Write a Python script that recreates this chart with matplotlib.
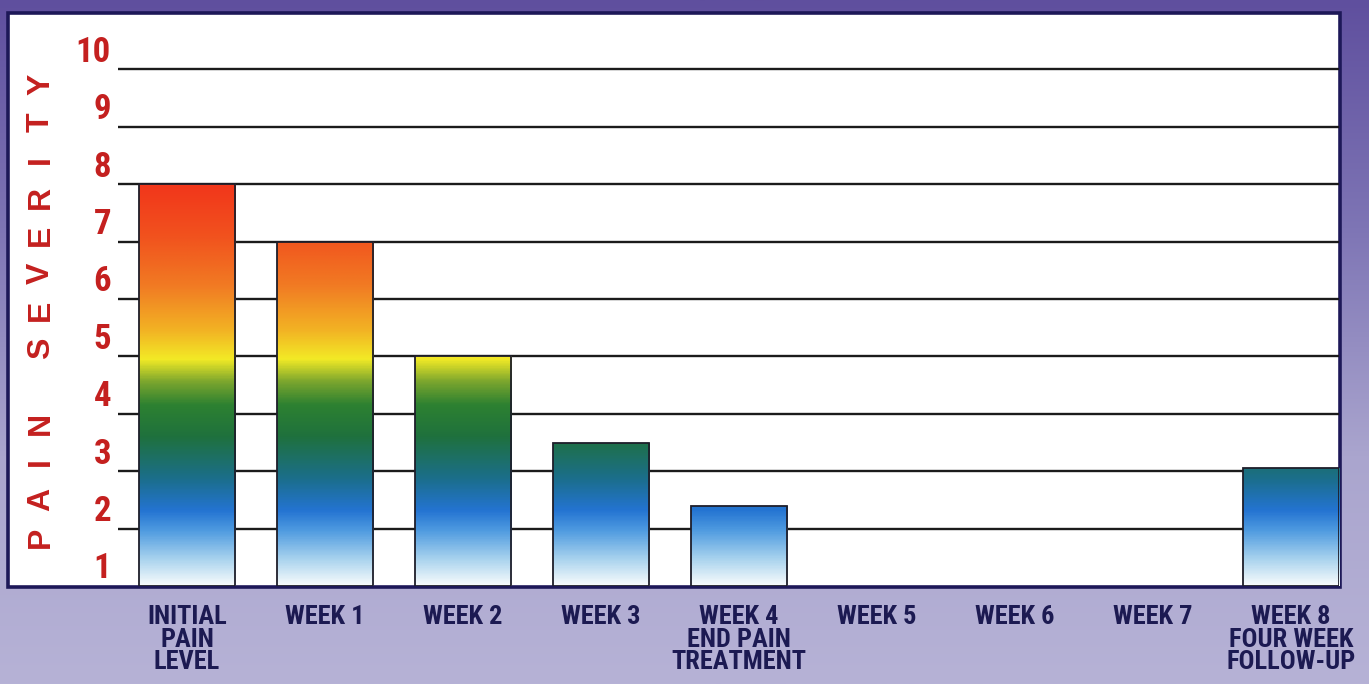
import numpy as np
import matplotlib
matplotlib.use("Agg")
import matplotlib.pyplot as plt
from matplotlib.colors import LinearSegmentedColormap, Normalize
from matplotlib.patches import Rectangle
from matplotlib import font_manager

# ---------------- data ----------------
categories = ["INITIAL\nPAIN\nLEVEL", "WEEK 1", "WEEK 2", "WEEK 3",
              "WEEK 4\nEND PAIN\nTREATMENT", "WEEK 5", "WEEK 6", "WEEK 7",
              "WEEK 8\nFOUR WEEK\nFOLLOW-UP"]
pain_values = [7.0, 6.0, 4.0, 2.5, 1.4, 0.0, 0.0, 0.0, 2.05]
severity_labels = ["1", "2", "3", "4", "5", "6", "7", "8", "9", "10"]
y_title = "PAIN SEVERITY"

# ---------------- fonts ----------------
def _weight(w):
    if isinstance(w, int):
        return w
    return {"bold": 700, "semibold": 600, "demibold": 600, "heavy": 800,
            "black": 900, "extra bold": 800}.get(str(w).lower(), 400)

bold_faces = {f.name for f in font_manager.fontManager.ttflist if _weight(f.weight) >= 600}
COND = dict(family="DejaVu Sans", stretch="condensed")
for cand in ["Roboto Condensed", "Archivo Narrow", "PT Sans Narrow",
             "Liberation Sans Narrow", "Barlow Condensed", "Open Sans Condensed"]:
    if cand in bold_faces:
        COND = dict(family=cand)
        break
WIDE = "Liberation Sans" if "Liberation Sans" in bold_faces else "DejaVu Sans"

W, H = 1369, 684
fig = plt.figure(figsize=(W / 100, H / 100), dpi=100)

# background purple gradient
bg = fig.add_axes([0, 0, 1, 1], zorder=-10)
bg.axis("off")
bg_cmap = LinearSegmentedColormap.from_list("bg", ["#5f4f9e", "#7e75b5", "#aaa5ce", "#b6b2d6"])
bg.imshow(np.linspace(0, 1, 256).reshape(-1, 1), cmap=bg_cmap, aspect="auto",
          extent=[0, 1, 0, 1], origin="upper")
bg.set_xlim(0, 1)
bg.set_ylim(0, 1)

# white framed box
bx0, bx1, by0, by1 = 8, 1340, 13, 587
bg.add_patch(Rectangle((bx0 / W, 1 - by1 / H), (bx1 - bx0) / W, (by1 - by0) / H,
                       transform=fig.transFigure, facecolor="white",
                       edgecolor="#1d1858", linewidth=2.6, zorder=5))

# main axes
ax_left, ax_right, ax_bottom, ax_top = 118, 1339, 586, 12
ax = fig.add_axes([ax_left / W, 1 - ax_bottom / H, (ax_right - ax_left) / W,
                   (ax_bottom - ax_top) / H])
ax.set_facecolor("none")
xmax = (ax_right - 187) / 138.0

# grid lines
ax.hlines(np.arange(1, 10), -0.5, xmax, color="#1b1b1b", linewidth=1.7, zorder=1)

# gradient colormap (by absolute severity level)
top = 7.2
stops = [(0.00, "#f7fbfc"), (0.45, "#a9d3ee"), (0.95, "#4f9be0"), (1.30, "#2474d2"),
         (1.85, "#1b6e8c"), (2.60, "#1f713d"), (3.15, "#2d8131"), (3.55, "#7aa52e"),
         (3.95, "#f2ea26"), (4.45, "#f3b324"), (5.25, "#f17a23"), (6.10, "#f1521e"),
         (7.20, "#f2301a")]
bar_cmap = LinearSegmentedColormap.from_list("pain", [(s / top, c) for s, c in stops])
grad = np.linspace(0, top, 600).reshape(-1, 1)

x = np.arange(len(categories))
bars = ax.bar(x, pain_values, width=0.70, facecolor="none", edgecolor="#1e1e2a",
              linewidth=1.3, zorder=3)
for b in bars:
    if b.get_height() <= 0:
        b.set_visible(False)
        continue
    im = ax.imshow(grad, cmap=bar_cmap, norm=Normalize(0, top), origin="lower",
                   aspect="auto", extent=[b.get_x(), b.get_x() + b.get_width(), 0, top],
                   zorder=2)
    im.set_clip_path(b)

ax.set_xlim(-0.5, xmax)
ax.set_ylim(0, 10)
for s in ax.spines.values():
    s.set_visible(False)

# y ticks (labels sit inside each band)
ax.set_yticks([i + 1 - 0.64 for i in range(len(severity_labels))], severity_labels)
ax.tick_params(axis="y", length=0, pad=5, labelcolor="#c4201f", labelsize=25)
for t in ax.get_yticklabels():
    t.set_fontweight("bold")
    t.set(**COND)

# x ticks
ax.set_xticks(x, categories)
ax.tick_params(axis="x", length=0, pad=14, labelcolor="#1c1a52", labelsize=19)
for t in ax.get_xticklabels():
    t.set_fontweight("bold")
    t.set(**COND)
    t.set_linespacing(0.9)

# y title, letter spaced
pitch = 37.7
for k, ch in enumerate(y_title):
    if ch == " ":
        continue
    fig.text(41 / W, 1 - (537 - k * pitch) / H, ch, rotation=90, ha="center",
             va="center", color="#c4201f", fontsize=23, fontweight="bold", family=WIDE)

fig.savefig("out.png", dpi=100)
